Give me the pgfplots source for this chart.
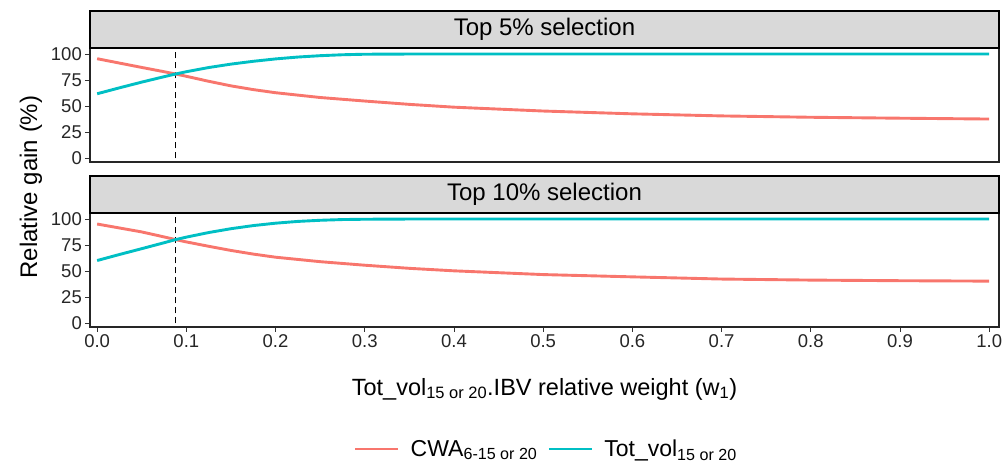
\documentclass[border=0pt]{standalone}
\usepackage{pgfplots}
\pgfplotsset{compat=1.18}
\usepackage{fontspec}
\setmainfont{Liberation Sans}
\definecolor{cred}{HTML}{F8766D}
\definecolor{cteal}{HTML}{00BFC4}
\definecolor{stripgray}{HTML}{D9D9D9}

\pgfplotsset{
  panel/.style={
    scale only axis, width=909pt, height=114pt,
    xmin=-0.008, xmax=1.011, ymin=-3.8, ymax=105.8,
    ytick={0,25,50,75,100},
    xtick={0,0.1,...,1.0},
    tick align=outside, major tick length=5pt,
    tick style={black!80, line width=0.9pt},
    axis line style={line width=1.1pt, black!85},
    xtick pos=bottom, ytick pos=left,
    /pgf/number format/assume math mode=true,
    yticklabel style={font=\fontsize{18.5}{22}\selectfont, text=black!85, inner xsep=3pt},
    xticklabel style={font=\fontsize{18.5}{22}\selectfont, text=black!85, inner ysep=2pt},
    x tick label style={/pgf/number format/.cd, fixed, fixed zerofill, precision=1},
    clip=true,
  }
}

\begin{document}
\begin{tikzpicture}
\useasboundingbox (0,0) rectangle (1006pt,468pt);

% Top panel
\begin{axis}[panel, name=top, at={(90pt,306pt)}, anchor=south west,
  xticklabels={}, major x tick style={draw=none}]
\addplot[black, line width=1.3pt, dash pattern=on 6pt off 4pt, forget plot] coordinates {(0.088,-10) (0.088,110)};
\addplot[cred, line width=2.9pt] coordinates {
(0,95.5) (0.025,91.3) (0.05,87.1) (0.075,83) (0.088,80.8) (0.1,78.6) (0.125,73.8) (0.15,69.4) (0.175,65.8) (0.2,62.8) (0.25,58.2) (0.3,54.8) (0.35,51.6) (0.4,48.9) (0.5,45.2) (0.6,42.5) (0.7,40.5) (0.8,39.2) (0.9,38.3) (1.0,37.5)};
\addplot[cteal, line width=2.9pt] coordinates {
(0,61.8) (0.025,67.5) (0.05,73) (0.075,78.2) (0.088,80.8) (0.1,83) (0.125,87) (0.15,90.3) (0.175,93) (0.2,95.3) (0.225,97.1) (0.25,98.4) (0.275,99.3) (0.3,99.8) (0.35,100) (0.4,100) (0.5,100) (0.6,100) (0.7,100) (0.8,100) (0.9,100) (1.0,100)};
\end{axis}

% Bottom panel
\begin{axis}[panel, name=bot, at={(90pt,141pt)}, anchor=south west,
  legend style={at={(axis description cs:0.502,-1.07)}, anchor=center, draw=none, fill=none,
    legend columns=2, font=\fontsize{23}{26}\selectfont,
    /tikz/every odd column/.append style={column sep=9pt},
    /tikz/every even column/.append style={column sep=8pt}},
  legend cell align=left,
  legend image code/.code={\draw[#1, line width=2.9pt] (0pt,0pt) -- (43pt,0pt);},
  xlabel={Tot\_vol\textsubscript{15 or 20}.IBV relative weight (w\textsubscript{1})},
  xlabel style={font=\fontsize{23.5}{26}\selectfont, at={(axis description cs:0.5,0)}, anchor=center, yshift=-62pt},
  ]
\addplot[black, line width=1.3pt, dash pattern=on 6pt off 4pt, forget plot] coordinates {(0.088,-10) (0.088,110)};
\addplot[cred, line width=2.9pt] coordinates {
(0,95.2) (0.025,91.4) (0.05,87.6) (0.075,82.8) (0.088,80.2) (0.1,78) (0.125,73.8) (0.15,69.8) (0.175,66.3) (0.2,63.3) (0.25,59) (0.3,55.6) (0.35,52.6) (0.4,50.2) (0.5,46.6) (0.6,44.4) (0.7,42.3) (0.8,41.3) (0.9,40.7) (1.0,40.3)};
\addlegendentry{CWA\textsubscript{6-15 or 20}}
\addplot[cteal, line width=2.9pt] coordinates {
(0,60.1) (0.025,65.9) (0.05,71.5) (0.075,77.2) (0.088,80.2) (0.1,82.6) (0.125,87) (0.15,90.7) (0.175,93.7) (0.2,96) (0.225,97.7) (0.25,98.8) (0.275,99.5) (0.3,99.8) (0.35,100) (0.4,100) (0.5,100) (0.6,100) (0.7,100) (0.8,100) (0.9,100) (1.0,100)};
\addlegendentry{Tot\_vol\textsubscript{15 or 20}}
\end{axis}

% Strips
\draw[fill=stripgray, draw=black, line width=1.1pt] (top.north west) rectangle ([yshift=37pt]top.north east);
\node[font=\fontsize{24}{28}\selectfont] at ([yshift=18.5pt]top.north) {Top 5\% selection};
\draw[fill=stripgray, draw=black, line width=1.1pt] (bot.north west) rectangle ([yshift=37pt]bot.north east);
\node[font=\fontsize{24}{28}\selectfont] at ([yshift=18.5pt]bot.north) {Top 10\% selection};

% Shared y label
\node[rotate=90, font=\fontsize{24}{28}\selectfont] at (31pt,281pt) {Relative gain (\%)};
\end{tikzpicture}
\end{document}
